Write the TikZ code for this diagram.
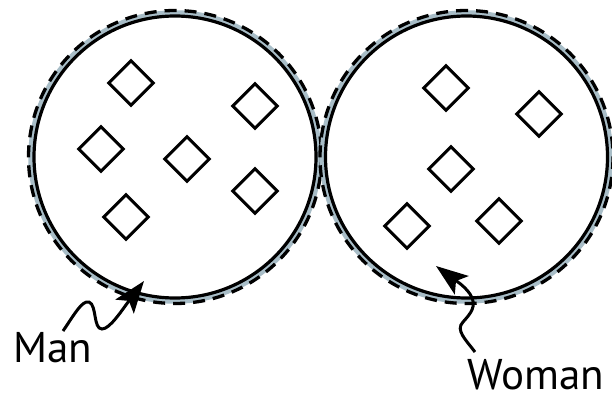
\documentclass[tikz,border=0pt]{standalone}
\usepackage{fontspec}
\setmainfont{PT Sans}
\usetikzlibrary{arrows.meta}
\definecolor{band}{RGB}{168,189,199}
\tikzset{
  ring/.style={draw=black, line width=3.2pt},
  bandring/.style={draw=band, line width=5.5pt},
  dashring/.style={draw=black, line width=3.3pt, dash pattern=on 12pt off 8pt},
  gem/.style={draw=black, line width=3pt, minimum width=31.5pt, minimum height=31.5pt, rotate=45, inner sep=0pt},
  wave/.style={draw=black, line width=3pt, -{Stealth[length=32pt,width=23pt,inset=7pt]}},
  lbl/.style={font=\fontsize{43}{43}\selectfont, anchor=base west, inner sep=0pt}
}
\begin{document}
\begin{tikzpicture}[x=1pt,y=-1pt]
\useasboundingbox (0,0) rectangle (612,401);
% left circle
\coordinate (cL) at (175,157);
\draw[bandring] (cL) circle (144);
\draw[dashring] (cL) circle (146.5);
\draw[ring] (cL) circle (141);
% right circle
\coordinate (cR) at (466.5,157);
\draw[bandring] (cR) circle (144);
\draw[dashring] (cR) circle (146.5);
\draw[ring] (cR) circle (141);
% diamonds left
\node[gem] (l1) at (131,83) {};
\node[gem] (l2) at (255,106) {};
\node[gem] (l3) at (101,149) {};
\node[gem] (l4) at (187,159) {};
\node[gem] (l5) at (255,191) {};
\node[gem] (l6) at (126,217) {};
% diamonds right
\node[gem] (r1) at (446,88) {};
\node[gem] (r2) at (539,114) {};
\node[gem] (r3) at (451,169) {};
\node[gem] (r4) at (407,226) {};
\node[gem] (r5) at (499,221) {};
% labels
\node[lbl] (man) at (13,362) {Man};
\node[lbl] (woman) at (467,389) {Woman};
% arrows
\coordinate (ms) at (63,331);
\coordinate (mt) at (144,281);
\draw[wave] (ms) .. controls (74,315) and (82,300) .. (89,302)
  .. controls (97,305) and (93,329) .. (102,329)
  .. controls (110,329) and (122,310) .. (mt);
\coordinate (ws) at (475,352);
\coordinate (wt) at (436,266);
\draw[wave] (ws) .. controls (466,340) and (455,330) .. (463,322)
  .. controls (470,314) and (478,306) .. (470,294)
  .. controls (464,285) and (452,278) .. (wt);
\end{tikzpicture}
\end{document}
